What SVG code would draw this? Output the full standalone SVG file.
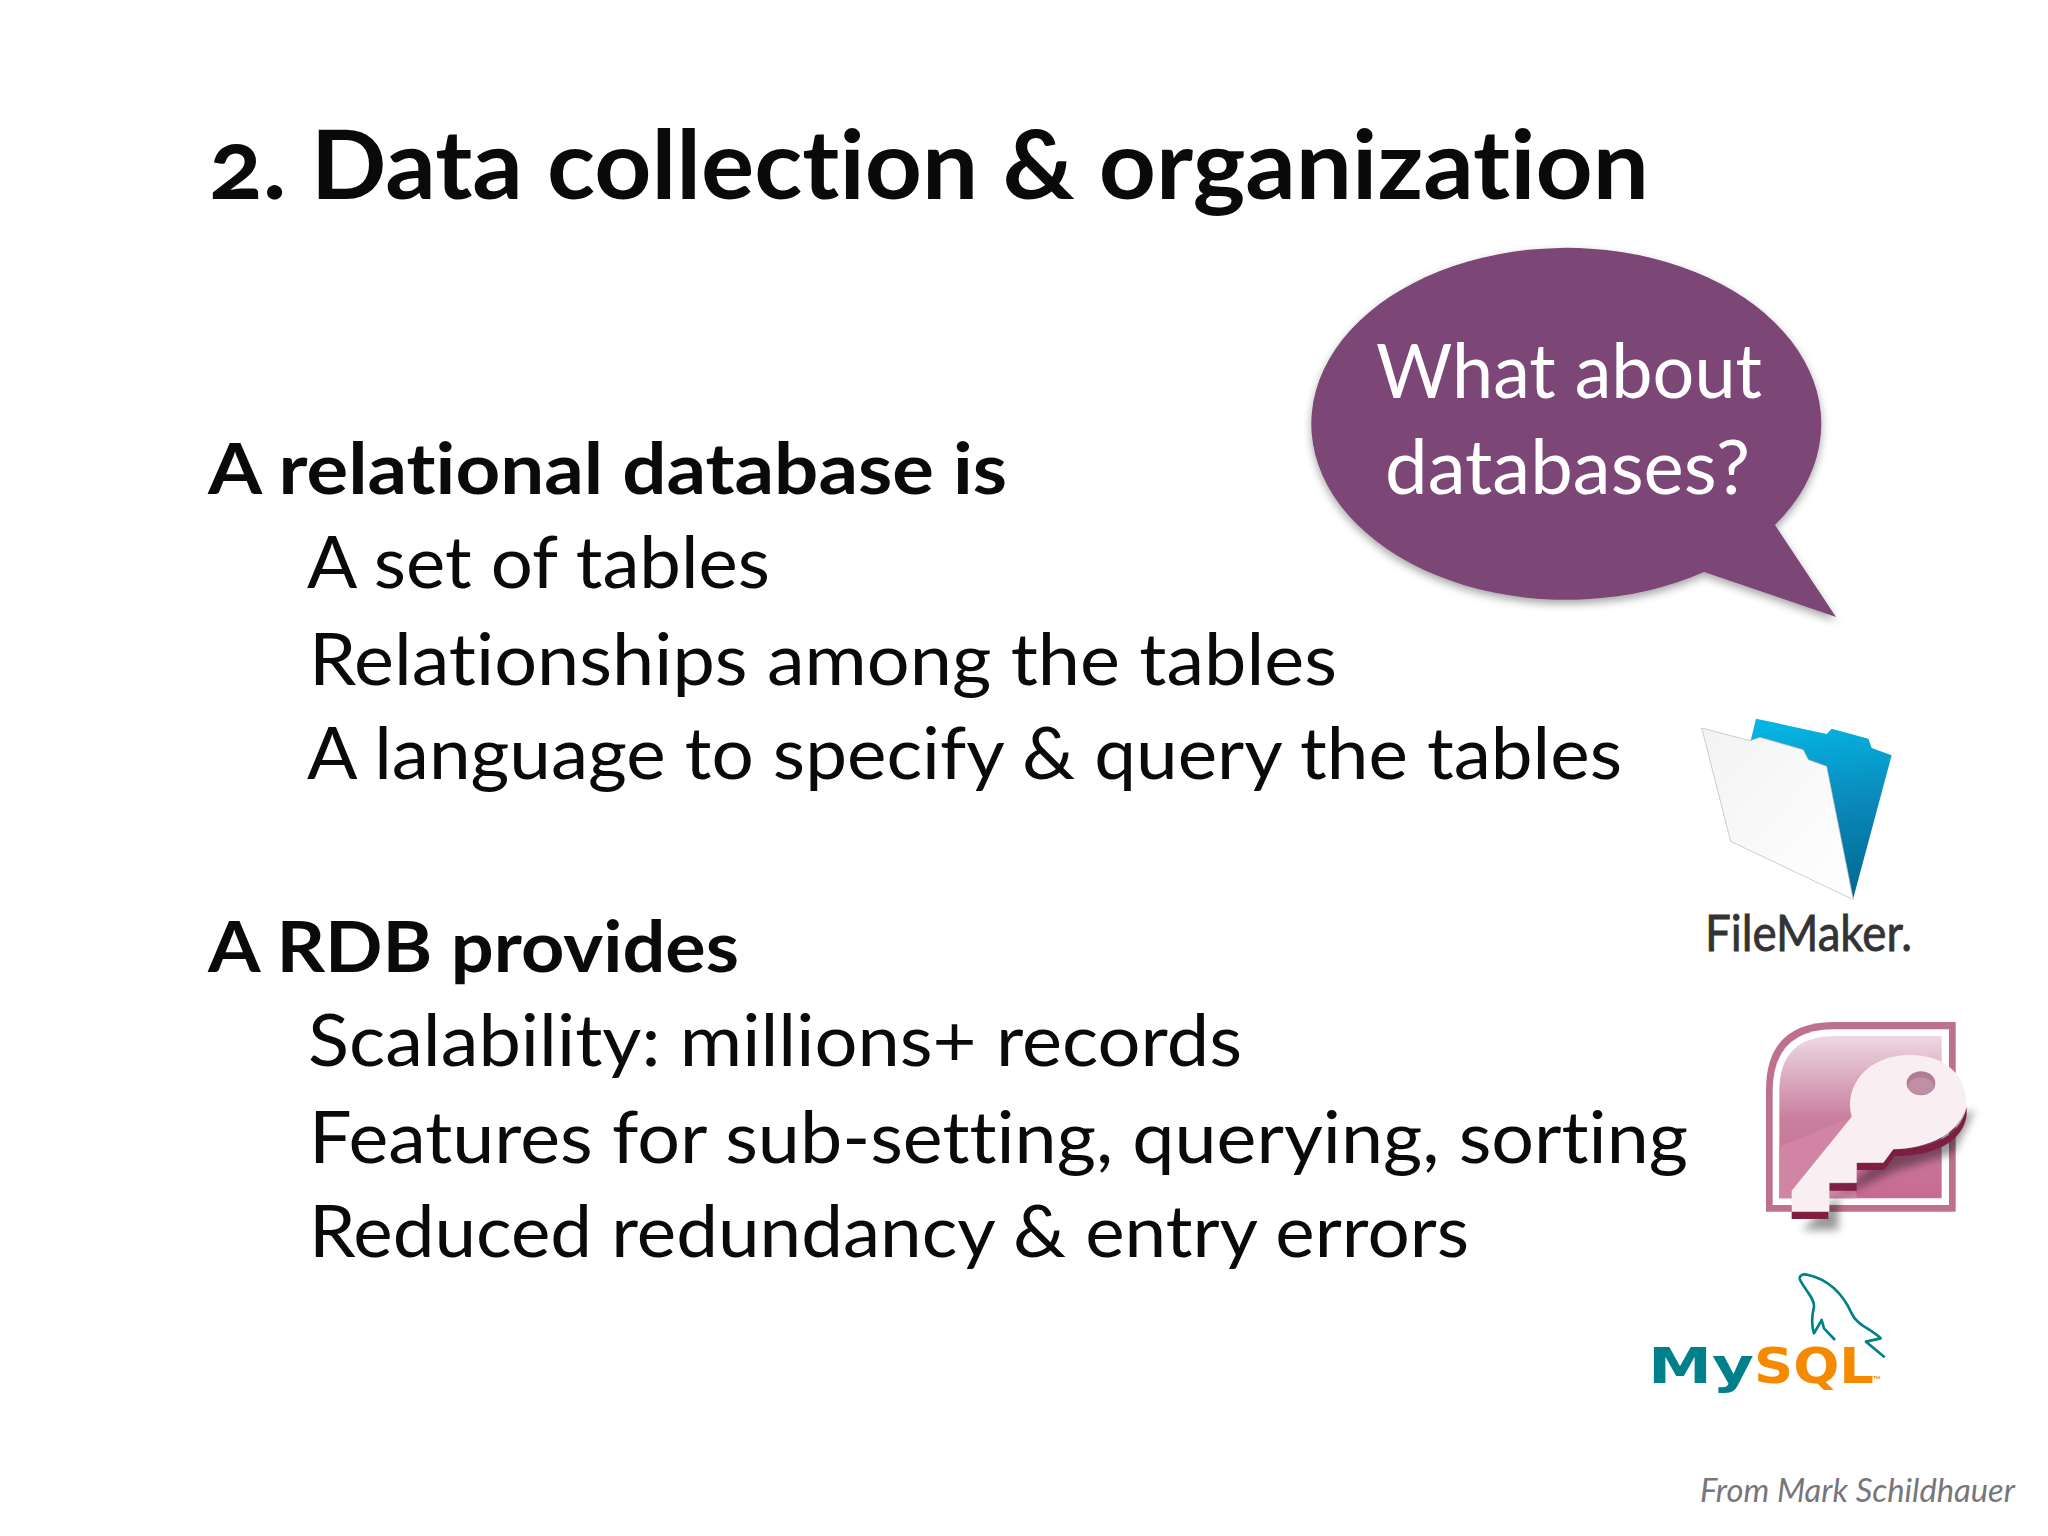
<svg xmlns="http://www.w3.org/2000/svg" width="2048" height="1536" viewBox="0 0 2048 1536">
<style>
text{font-family:"Lato","Open Sans","Liberation Sans",sans-serif;fill:#0a0a0a;font-variant-ligatures:none}
.title{font-size:96px;font-weight:700;font-variant-numeric:oldstyle-nums}
.h{font-size:71px;font-weight:700}
.b{font-size:71px;font-weight:400}
.bubble{font-size:76px;fill:#fff}
.fm{font-size:50px;fill:#333;stroke:#333;stroke-width:.8px}
.my{font-family:"DejaVu Sans",sans-serif;font-size:50px;font-weight:700}
</style>
<defs>
<filter id="ds" x="-10%" y="-10%" width="120%" height="125%"><feDropShadow dx="0" dy="4" stdDeviation="4" flood-color="#000" flood-opacity=".35"/></filter>
<filter id="soft" x="-20%" y="-20%" width="150%" height="150%"><feGaussianBlur stdDeviation="12"/></filter>
<linearGradient id="blue" x1="0.6" y1="0" x2="0.7" y2="1"><stop offset="0" stop-color="#05b4e3"/><stop offset=".5" stop-color="#0a87b8"/><stop offset="1" stop-color="#00688f"/></linearGradient>
<linearGradient id="white" x1="0" y1="0" x2="1" y2="1"><stop offset="0" stop-color="#f3f3f3"/><stop offset="1" stop-color="#ffffff"/></linearGradient>
<linearGradient id="pink" x1="0" y1="0" x2="0" y2="1"><stop offset="0" stop-color="#eed8e2"/><stop offset=".5" stop-color="#c9809f"/><stop offset="1" stop-color="#c76a93"/></linearGradient>
</defs>
<rect width="2048" height="1536" fill="#fff"/>
<g id="title"><text class="title" x="209" y="199" textLength="1440" lengthAdjust="spacingAndGlyphs">2. Data collection &amp; organization</text></g>
<g id="body">
<text class="h" x="208" y="494" textLength="799" lengthAdjust="spacingAndGlyphs">A relational database is</text>
<text class="b" x="307" y="588" textLength="463" lengthAdjust="spacingAndGlyphs">A set of tables</text>
<text class="b" x="309" y="685" textLength="1028" lengthAdjust="spacingAndGlyphs">Relationships among the tables</text>
<text class="b" x="307" y="779" textLength="1315" lengthAdjust="spacingAndGlyphs">A language to specify &amp; query the tables</text>
<text class="h" x="208" y="972" textLength="531" lengthAdjust="spacingAndGlyphs">A RDB provides</text>
<text class="b" x="308" y="1066" textLength="934" lengthAdjust="spacingAndGlyphs">Scalability: millions+ records</text>
<text class="b" x="309" y="1163" textLength="1379" lengthAdjust="spacingAndGlyphs">Features for sub-setting, querying, sorting</text>
<text class="b" x="309" y="1257" textLength="1160" lengthAdjust="spacingAndGlyphs">Reduced redundancy &amp; entry errors</text>
</g>
<g id="speech-bubble">
<path filter="url(#ds)" fill="#7b4776" d="M1775 525 A255 176 0 1 0 1704 572 L1836 617 Z"/>
<text class="bubble" x="1376" y="398" textLength="386" lengthAdjust="spacingAndGlyphs">What about</text>
<text class="bubble" x="1385" y="494" textLength="365" lengthAdjust="spacingAndGlyphs">databases?</text>
</g>
<g id="filemaker">
<g transform="translate(1680 698) scale(.33333)">
<path fill="url(#blue)" d="M212 128 L228 62 L440 108 L455 92 L565 122 L575 150 L635 172 L520 600 Z"/>
<path fill="url(#white)" stroke="#b5b5b5" stroke-width="2" stroke-linejoin="round" d="M65 90 L210 128 L240 118 L370 155 L385 185 L440 205 L520 605 L152 430 Z"/>
</g>
<text class="fm" x="1705" y="951" textLength="207" lengthAdjust="spacingAndGlyphs">FileMaker.</text>
</g>
<g id="access">
<g transform="translate(1740 1000) scale(.33333)">
<path d="M78 635 V270 Q78 68 280 66 H647 V635 Z" fill="#be708f"/>
<path d="M98 615 V270 Q100 90 280 88 H627 V615 Z" fill="#fff"/>
<path d="M118 595 V270 Q120 108 285 108 H605 V595 Z" fill="url(#pink)"/>
<path d="M118 440 L340 350 L350 595 H118 Z" fill="#d284a4"/>
<path d="M185 690 H295 V590 L470 510 L640 460 L705 330 L500 400 Z" fill="#000" opacity=".4" filter="url(#soft)"/>
<path d="M155 657 V620 H265 V657 Z M268 572 V550 H350 V572 Z M350 510 V488 H430 V510 Z M430 490 L460 448 C560 445 660 420 680 320 V345 C670 430 570 470 465 468 L432 510 Z" fill="#7d1e42"/>
<path d="M155 635 V572 L335 350 C310 260 380 165 510 165 C620 165 680 230 678 310 C670 400 560 448 460 448 L430 488 H350 V548 H268 V635 Z" fill="#f9eef2"/>
<ellipse cx="543" cy="250" rx="43" ry="36" fill="#b07d94"/>
<ellipse cx="543" cy="258" rx="38" ry="26" fill="#c18fa5"/>
</g>
</g>
<g id="mysql">
<path transform="translate(1630 1260) scale(.33333)" fill="none" stroke="#00808a" stroke-width="8" stroke-linejoin="round" d="M508 55 Q512 38 535 45 C600 60 640 105 665 160 C680 195 720 205 752 235 L708 245 L764 292 M508 55 C520 85 555 115 552 140 C545 170 545 200 552 220 L575 180 L582 205 L615 240"/>
<text class="my" x="1648" y="1383" textLength="106" lengthAdjust="spacingAndGlyphs" style="fill:#00808a">My</text>
<text class="my" x="1754" y="1383" textLength="120" lengthAdjust="spacingAndGlyphs" style="fill:#f58a00">SQL</text>
<text x="1873" y="1384" font-size="11" style="fill:#f58a00">™</text>
</g>
<g id="credit"><text x="1700" y="1502" font-size="33" font-style="italic" textLength="315" lengthAdjust="spacingAndGlyphs" style="fill:#77767b">From Mark Schildhauer</text></g>
</svg>
